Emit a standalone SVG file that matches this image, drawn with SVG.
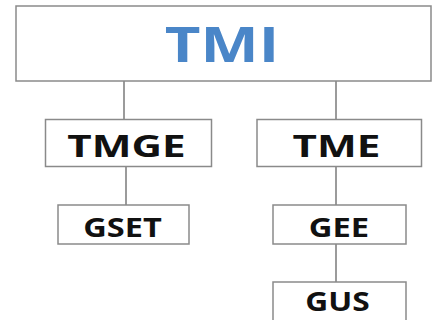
<svg xmlns="http://www.w3.org/2000/svg" width="439" height="320" viewBox="0 0 439 320">
<style>
.box{fill:#fff;stroke:#8a8a8a;stroke-width:1.5}
.lbl{font-family:"Open Sans","Liberation Sans",sans-serif;font-weight:bold;fill:#111;text-anchor:middle}
.conn line{stroke:#7a7a7a;stroke-width:1.5}
</style>
<rect width="439" height="320" fill="#fff"/>
<g class="conn" id="connectors">
<line x1="124" y1="81" x2="124" y2="119"/>
<line x1="336" y1="81" x2="336" y2="119"/>
<line x1="126" y1="167" x2="126" y2="205"/>
<line x1="336" y1="167" x2="336" y2="205"/>
<line x1="336" y1="244" x2="336" y2="282"/>
</g>
<g id="TMI"><rect class="box" x="16" y="6" width="415" height="75"/><text class="lbl" transform="translate(222 62) scale(1.26 1)" font-size="49" style="fill:#4a86c8">TMI</text></g>
<g id="TMGE"><rect class="box" x="45.5" y="119.5" width="166" height="47"/><text class="lbl" transform="translate(126.5 157) scale(1.36 1)" font-size="31">TMGE</text></g>
<g id="TME"><rect class="box" x="257" y="119.5" width="164.5" height="47"/><text class="lbl" transform="translate(336.5 157) scale(1.36 1)" font-size="31">TME</text></g>
<g id="GSET"><rect class="box" x="58" y="205" width="131" height="39"/><text class="lbl" transform="translate(122.5 237) scale(1.25 1)" font-size="26">GSET</text></g>
<g id="GEE"><rect class="box" x="273" y="205" width="133" height="39"/><text class="lbl" transform="translate(339 237) scale(1.26 1)" font-size="26">GEE</text></g>
<g id="GUS"><rect class="box" x="273" y="282" width="133" height="40"/><text class="lbl" transform="translate(337.5 311) scale(1.22 1)" font-size="26">GUS</text></g>
</svg>
